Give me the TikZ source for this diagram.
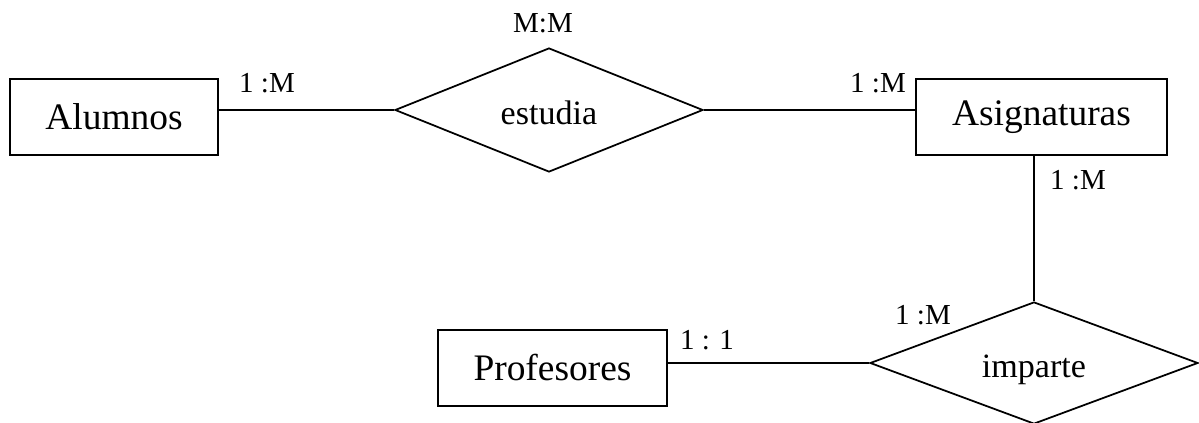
\documentclass[tikz,border=0pt]{standalone}
\usepackage{fontspec}
\setmainfont{Liberation Serif}
\usetikzlibrary{shapes.geometric}
\tikzstyle{en}=[rectangle,draw=black,line width=1.1pt,inner sep=0pt,
  minimum height=1.52cm,font=\fontsize{21.3}{24}\selectfont]
\tikzstyle{rl}=[diamond,draw=black,line width=1pt,inner sep=0pt,aspect=2.5,
  text height=0.6cm,text depth=0pt,font=\fontsize{19.4}{22}\selectfont]
\tikzstyle{cd}=[inner sep=0pt,font=\fontsize{16.5}{19}\selectfont]

\begin{document}
\begin{tikzpicture}[line width=1pt]
        \useasboundingbox (0,0) rectangle (23.98,8.46);
        \node[style=en,minimum width=4.16cm] (0) at (2.28,6.12) {Alumnos};
        \node[style=rl,minimum width=6.16cm,minimum height=2.48cm] (1) at (10.98,6.26) {estudia};
        \node[style=en,minimum width=5.02cm] (2) at (20.83,6.12) {Asignaturas};
        \node[style=rl,minimum width=6.56cm,minimum height=2.44cm] (3) at (20.68,1.20) {imparte};
        \node[style=en,minimum width=4.58cm] (4) at (11.05,1.10) {Profesores};
        \node[style=cd] (5) at (5.34,6.80) {1 :M};
        \node[style=cd] (6) at (10.86,8.00) {M:M};
        \node[style=cd] (7) at (17.56,6.80) {1 :M};
        \node[style=cd] (8) at (21.56,4.86) {1 :M};
        \node[style=cd] (9) at (14.14,1.66) {1 : 1};
        \node[style=cd] (10) at (18.46,2.16) {1 :M};
        \draw (0.east |- 1.west) to (1.west);
        \draw (1.east) to (2.west |- 1.east);
        \draw (3.north |- 2.south) to (3.north);
        \draw (4.east |- 3.west) to (3.west);
    \end{tikzpicture}
\end{document}
